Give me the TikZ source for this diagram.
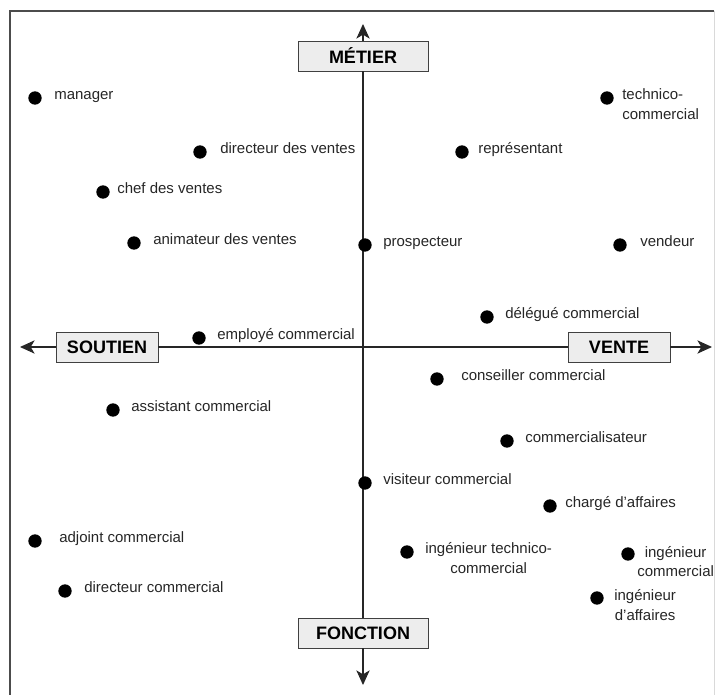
\documentclass[tikz,border=0pt]{standalone}
\usepackage{fontspec}
\setmainfont{Liberation Sans}
\usetikzlibrary{arrows.meta}

\begin{document}
\begin{tikzpicture}[x=0.75pt,y=-0.75pt,
  pt/.style={circle,fill=black,inner sep=0pt,minimum size=10pt},
  lbl/.style={inner sep=0pt,anchor=base west,text=black!85,font=\fontsize{11.25}{15}\selectfont},
  axe/.style={draw=black!75,fill=black!7,minimum height=22.5pt,inner sep=0pt,font=\fontsize{13.5}{16}\selectfont\bfseries},
  axisline/.style={black!85,line width=0.8pt},
  axis/.style={axisline,-{Stealth[length=11pt,width=10pt,inset=3pt]}}]
  \def \axx {363}
  \def \axy {347}

  \useasboundingbox (0,0) rectangle (715,695);

  % cadre
  \draw[black!70,line width=1.2pt] (10,695) -- (10,11) -- (714,11);
  \draw[black!15] (714,11) -- (714,695);

  % axes
  \node[axe,minimum width=97.5pt] (metier) at (\axx,56) {MÉTIER};
  \node[axe,minimum width=97.5pt] (fonction) at (\axx,633) {FONCTION};
  \node[axe,minimum width=76.5pt] (soutien) at (107,\axy) {SOUTIEN};
  \node[axe,minimum width=76.5pt] (vente) at (619,\axy) {VENTE};
  \coordinate (haut) at (\axx,24);
  \coordinate (bas) at (\axx,685);
  \coordinate (gauche) at (20,\axy);
  \coordinate (droite) at (712,\axy);

  \draw[axisline] (metier) -- (fonction);
  \draw[axisline] (soutien) -- (vente);
  \draw[axis] (metier) -- (haut);
  \draw[axis] (fonction) -- (bas);
  \draw[axis] (soutien) -- (gauche);
  \draw[axis] (vente) -- (droite);

  % metiers sur une ligne
  \foreach \nom/\x/\y/\lx/\txt in {
      manager/35/98/54/manager,
      dirventes/200/152/220/directeur des ventes,
      chef/103/192/117/chef des ventes,
      representant/462/152/478/représentant,
      animateur/134/243/153/animateur des ventes,
      prospecteur/365/245/383/prospecteur,
      vendeur/620/245/640/vendeur,
      delegue/487/317/505/délégué commercial,
      employe/199/338/217/employé commercial,
      conseiller/437/379/461/conseiller commercial,
      assistant/113/410/131/assistant commercial,
      commercialisateur/507/441/525/commercialisateur,
      visiteur/365/483/383/visiteur commercial,
      charge/550/506/565/chargé d'affaires,
      adjoint/35/541/59/adjoint commercial,
      dircom/65/591/84/directeur commercial}{
    \node[pt] (\nom) at (\x,\y) {};
    \node[lbl] (\nom-t) at (\lx,\y+2) {\txt};
  }

  % metiers sur deux lignes (base = derniere ligne)
  \node[pt] (technico) at (607,98) {};
  \node[lbl,align=left] (technico-t) at (622,120) {technico-\\commercial};
  \node[pt] (ingtech) at (407,552) {};
  \node[lbl,align=center] (ingtech-t) at (425,574) {ingénieur technico-\\commercial};
  \node[pt] (ingcom) at (628,554) {};
  \node[lbl,align=center] (ingcom-t) at (637,577) {ingénieur\\commercial};
  \node[pt] (ingaff) at (597,598) {};
  \node[lbl,align=center] (ingaff-t) at (614,620) {ingénieur\\d'affaires};
\end{tikzpicture}
\end{document}
